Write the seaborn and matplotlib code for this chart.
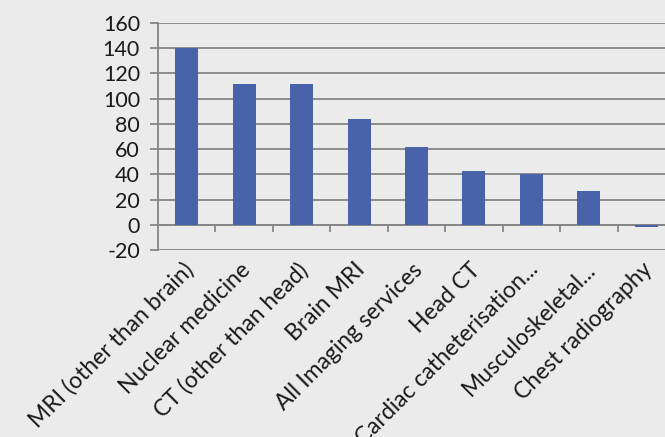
import matplotlib
matplotlib.use("Agg")
import matplotlib.pyplot as plt
import matplotlib.transforms as mtransforms
import seaborn as sns
import pandas as pd
import numpy as np

categories = ["MRI (other than brain)", "Nuclear medicine", "CT (other than head)",
              "Brain MRI", "All Imaging services", "Head CT",
              "Cardiac catheterisation...", "Musculoskeletal...", "Chest radiography"]
values = [140, 112, 112, 84, 62, 43, 40, 27, -2]
yticks = [-20, 0, 20, 40, 60, 80, 100, 120, 140, 160]

sns.set_theme(style="white")
plt.rcParams['font.family'] = ['Lato', 'DejaVu Sans']

bg = "#ebebeb"
grid_c = "#868686"
txt_c = "#1a1a1a"
fig = plt.figure(figsize=(6.65, 4.37), dpi=100, facecolor=bg)
ax = fig.add_axes([158/665, 1-250/437, 517/665, 227/437])
ax.set_facecolor(bg)

df = pd.DataFrame({"cat": categories, "val": values})
sns.barplot(data=df, x="cat", y="val", color="#4863aa", saturation=1,
            width=0.4, ax=ax, zorder=3, edgecolor="none", linewidth=0)

ax.set_xlim(-0.5, 8.5)
ax.set_ylim(-20, 160)
ax.set_yticks(yticks)
ax.set_yticklabels([str(v) for v in yticks], fontsize=15.5, color=txt_c)
ax.yaxis.grid(True, color=grid_c, linewidth=1.3, zorder=0)
ax.set_axisbelow(True)
ax.tick_params(axis="y", direction="out", length=6, width=1.3, color=grid_c,
               left=True, pad=7)
ax.set_xlabel("")
ax.set_ylabel("")

for s in ["top", "right"]:
    ax.spines[s].set_visible(False)
ax.spines["left"].set_color(grid_c)
ax.spines["left"].set_linewidth(1.3)
ax.spines["bottom"].set_position(("data", 0))
ax.spines["bottom"].set_color(grid_c)
ax.spines["bottom"].set_linewidth(1.3)

n = len(categories)
ax.set_xticks(np.arange(n) + 0.5)
ax.set_xticklabels([""] * n)
ax.tick_params(axis="x", which="major", direction="out", length=5, width=1.3,
               color=grid_c, bottom=True)
ax.set_xticks(np.arange(n), minor=True)
ax.set_xticklabels(categories, minor=True, rotation=45, ha="right", va="center",
                   rotation_mode="anchor", fontsize=16.5, color=txt_c)
ax.tick_params(axis="x", which="minor", length=0, pad=30)
offset = mtransforms.ScaledTranslation(3/100, 0, fig.dpi_scale_trans)
for lab in ax.get_xticklabels(minor=True):
    lab.set_transform(lab.get_transform() + offset)

fig.savefig("out.png", dpi=100, facecolor=bg)
